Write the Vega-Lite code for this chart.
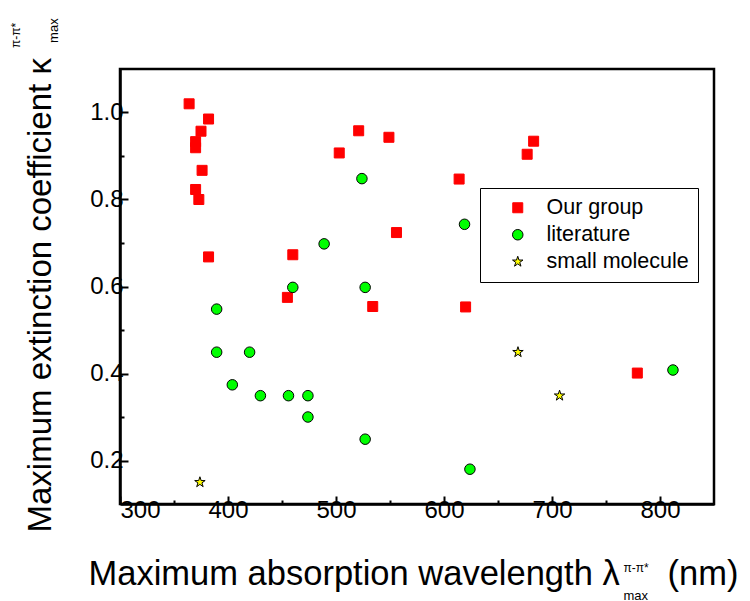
{
  "$schema": "https://vega.github.io/schema/vega-lite/v6.json",
  "width": 594,
  "height": 435,
  "autosize": "none",
  "padding": {"left": 120, "top": 69, "right": 36, "bottom": 97},
  "background": "white",
  "view": {"stroke": "black", "strokeWidth": 2.5},
  "config": {
    "font": "Liberation Sans",
    "axis": {
      "labelFont": "Liberation Sans",
      "titleFont": "Liberation Sans",
      "labelFontSize": 24,
      "titleFontSize": 34.5,
      "titleFontWeight": "normal",
      "labelColor": "black",
      "titleColor": "black",
      "domainColor": "black",
      "domainWidth": 2.5,
      "tickColor": "black",
      "tickWidth": 2,
      "grid": false
    },
    "legend": {
      "labelFont": "Liberation Sans",
      "labelFontSize": 21.5,
      "labelColor": "black"
    }
  },
  "datasets": {
    "points": [
      {"group": "Our group", "wl": 364, "k": 1.02},
      {"group": "Our group", "wl": 382, "k": 0.985},
      {"group": "Our group", "wl": 375, "k": 0.957},
      {"group": "Our group", "wl": 370, "k": 0.933},
      {"group": "Our group", "wl": 370, "k": 0.919},
      {"group": "Our group", "wl": 376, "k": 0.867},
      {"group": "Our group", "wl": 370, "k": 0.823},
      {"group": "Our group", "wl": 373, "k": 0.8},
      {"group": "Our group", "wl": 382, "k": 0.668},
      {"group": "Our group", "wl": 460, "k": 0.673},
      {"group": "Our group", "wl": 455, "k": 0.575},
      {"group": "Our group", "wl": 503, "k": 0.907},
      {"group": "Our group", "wl": 521, "k": 0.958},
      {"group": "Our group", "wl": 549, "k": 0.943},
      {"group": "Our group", "wl": 556, "k": 0.724},
      {"group": "Our group", "wl": 534, "k": 0.554},
      {"group": "Our group", "wl": 614, "k": 0.847},
      {"group": "Our group", "wl": 677, "k": 0.904},
      {"group": "Our group", "wl": 683, "k": 0.934},
      {"group": "Our group", "wl": 620, "k": 0.553},
      {"group": "Our group", "wl": 779, "k": 0.401},
      {"group": "literature", "wl": 524, "k": 0.848},
      {"group": "literature", "wl": 489, "k": 0.698},
      {"group": "literature", "wl": 460, "k": 0.598},
      {"group": "literature", "wl": 527, "k": 0.598},
      {"group": "literature", "wl": 389.5, "k": 0.548},
      {"group": "literature", "wl": 389.5, "k": 0.449},
      {"group": "literature", "wl": 420, "k": 0.449},
      {"group": "literature", "wl": 404, "k": 0.374},
      {"group": "literature", "wl": 430, "k": 0.349},
      {"group": "literature", "wl": 456, "k": 0.349},
      {"group": "literature", "wl": 474, "k": 0.349},
      {"group": "literature", "wl": 474, "k": 0.3},
      {"group": "literature", "wl": 527, "k": 0.249},
      {"group": "literature", "wl": 619, "k": 0.743},
      {"group": "literature", "wl": 812, "k": 0.408},
      {"group": "literature", "wl": 624, "k": 0.18},
      {"group": "small molecule", "wl": 374, "k": 0.15},
      {"group": "small molecule", "wl": 668.5, "k": 0.449},
      {"group": "small molecule", "wl": 707, "k": 0.349}
    ],
    "labels": [
      {"part": "xsup", "wl": 766.2, "k": -0.056, "txt": "π-π*"},
      {"part": "xsub", "wl": 766.2, "k": -0.121, "txt": "max"}
    ],
    "ylabels": [
      {"part": "ysup", "wl": 207.4, "k": 1.148, "txt": "π-π*"},
      {"part": "ysub", "wl": 242.6, "k": 1.160, "txt": "max"}
    ]
  },
  "data": {"name": "points"},
  "layer": [
    {
      "mark": {"type": "point", "filled": true, "strokeWidth": 1, "opacity": 1},
      "encoding": {
        "x": {
          "field": "wl", "type": "quantitative",
          "scale": {"domain": [300, 850], "nice": false, "zero": false},
          "axis": {
            "orient": "bottom",
            "values": [300, 350, 400, 450, 500, 550, 600, 650, 700, 750, 800],
            "labelExpr": "datum.value % 100 === 0 ? datum.label : ''",
            "tickSize": {"condition": {"test": "datum.value % 100 === 0", "value": -8}, "value": -4},
            "labelPadding": 2,
            "title": "Maximum absorption wavelength λ\u00a0\u00a0\u00a0\u00a0\u00a0(nm)",
            "titleAlign": "left",
            "titleAnchor": "start",
            "titleBaseline": "alphabetic",
            "titleX": -32,
            "titleY": 80
          }
        },
        "y": {
          "field": "k", "type": "quantitative",
          "scale": {"domain": [0.1, 1.1], "nice": false, "zero": false},
          "axis": {
            "orient": "left",
            "values": [0.2, 0.3, 0.4, 0.5, 0.6, 0.7, 0.8, 0.9, 1.0],
            "labelExpr": "round(datum.value*10) % 2 === 0 ? format(datum.value, '.1f') : ''",
            "tickSize": {"condition": {"test": "round(datum.value*10) % 2 === 0", "value": -8}, "value": -4},
            "labelPadding": 5,
            "title": "Maximum extinction coefficient κ",
            "titleAngle": 270,
            "titleAlign": "left",
            "titleAnchor": "start",
            "titleBaseline": "alphabetic",
            "titleFontSize": 33,
            "titleX": -70,
            "titleY": 463
          }
        },
        "color": {
          "field": "group", "type": "nominal",
          "scale": {"domain": ["Our group", "literature", "small molecule"], "range": ["#ff0000", "#00ff00", "#ffff00"]},
          "legend": {
            "title": null,
            "orient": "none",
            "legendX": 360,
            "legendY": 119,
            "strokeColor": "black",
            "fillColor": "white",
            "padding": 9,
            "symbolOffset": 18,
            "labelOffset": 18,
            "rowPadding": 4,
            "symbolStrokeWidth": 1
          }
        },
        "shape": {
          "field": "group", "type": "nominal",
          "scale": {"domain": ["Our group", "literature", "small molecule"], "range": ["square", "circle", "M0,-1L0.2245,-0.309L0.951,-0.309L0.363,0.118L0.588,0.809L0,0.382L-0.588,0.809L-0.363,0.118L-0.951,-0.309L-0.2245,-0.309Z"]}
        },
        "stroke": {
          "field": "group", "type": "nominal",
          "scale": {"domain": ["Our group", "literature", "small molecule"], "range": ["#ff0000", "#000000", "#000000"]}
        },
        "size": {
          "field": "group", "type": "nominal",
          "scale": {"domain": ["Our group", "literature", "small molecule"], "range": [100, 121, 170]}
        }
      }
    },
    {
      "data": {"name": "labels"},
      "mark": {"type": "text", "align": "left", "baseline": "alphabetic", "font": "Liberation Sans", "color": "black"},
      "encoding": {
        "x": {"field": "wl", "type": "quantitative"},
        "y": {"field": "k", "type": "quantitative"},
        "text": {"field": "txt"},
        "size": {"condition": {"test": "datum.part === 'xsub'", "value": 13}, "value": 12}
      }
    },
    {
      "data": {"name": "ylabels"},
      "mark": {"type": "text", "align": "left", "baseline": "alphabetic", "angle": 270, "font": "Liberation Sans", "color": "black"},
      "encoding": {
        "x": {"field": "wl", "type": "quantitative"},
        "y": {"field": "k", "type": "quantitative"},
        "text": {"field": "txt"},
        "size": {"condition": {"test": "datum.part === 'ysub'", "value": 13}, "value": 12}
      }
    }
  ]
}
